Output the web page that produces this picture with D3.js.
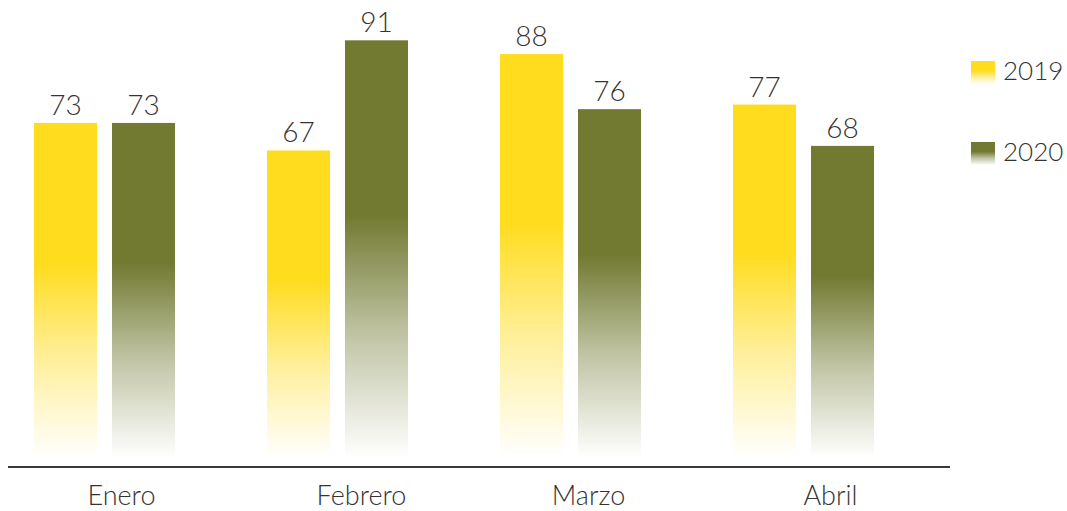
<!DOCTYPE html>
<html>
<head>
<meta charset="utf-8">
<script src="https://cdn.jsdelivr.net/npm/d3@7"></script>
<style>
  body { margin: 0; background: #fff; }
  svg text { font-family: Lato, "Open Sans", sans-serif; font-weight: 300; fill: #333; }
</style>
</head>
<body>
<div id="chart"></div>
<script>
// data
const MONTHS = ["Enero", "Febrero", "Marzo", "Abril"];
const SERIES = ["2019", "2020"];
const VALUES_2019 = [73, 67, 88, 77];
const VALUES_2020 = [73, 91, 76, 68];
const COLORS = ["#FFDC1E", "#727A32"];

const FRAME_WIDTH = 1067;
const FRAME_HEIGHT = 511;

const svg = d3.select("#chart").append("svg")
  .attr("width", FRAME_WIDTH)
  .attr("height", FRAME_HEIGHT);

// gradients: solid at top, fading to white at the bottom
const defs = svg.append("defs");
SERIES.forEach((s, i) => {
  const g = defs.append("linearGradient")
    .attr("id", "grad" + s)
    .attr("x1", 0).attr("y1", 0).attr("x2", 0).attr("y2", 1);
  g.append("stop").attr("offset", "0%").attr("stop-color", COLORS[i]).attr("stop-opacity", 1);
  g.append("stop").attr("offset", "42%").attr("stop-color", COLORS[i]).attr("stop-opacity", 1);
  g.append("stop").attr("offset", "70%").attr("stop-color", COLORS[i]).attr("stop-opacity", 0.45);
  g.append("stop").attr("offset", "100%").attr("stop-color", COLORS[i]).attr("stop-opacity", 0);
});

// one band per month, step 233px
const X_SCALE = d3.scaleBand().domain(MONTHS).range([8, 940]);
const Y_SCALE = d3.scaleLinear().domain([0, 100]).range([458, -1]);

const BAR_W = 63, BAR_GAP = 15, GROUP_SHIFT = -20;
const LABEL_SHIFT = [-3, 4, -2, 7]; // month labels sit slightly off centre

const data = [];
MONTHS.forEach((m, i) => {
  data.push({month: m, series: 0, value: VALUES_2019[i]});
  data.push({month: m, series: 1, value: VALUES_2020[i]});
});

const barX = d => X_SCALE(d.month) + X_SCALE.bandwidth() / 2 + GROUP_SHIFT
  + (d.series === 0 ? -BAR_GAP / 2 - BAR_W : BAR_GAP / 2);

svg.selectAll("rect.bar").data(data).enter().append("rect")
  .attr("class", "bar")
  .attr("x", d => barX(d))
  .attr("y", d => Y_SCALE(d.value))
  .attr("width", BAR_W)
  .attr("height", d => Y_SCALE(0) - Y_SCALE(d.value))
  .attr("fill", d => "url(#grad" + SERIES[d.series] + ")");

svg.selectAll("text.val").data(data).enter().append("text")
  .attr("class", "val")
  .attr("x", d => barX(d) + BAR_W / 2)
  .attr("y", d => Y_SCALE(d.value) - 8)
  .attr("text-anchor", "middle")
  .attr("font-size", "28px")
  .text(d => d.value);

// axis line + month labels
svg.append("line")
  .attr("x1", 8).attr("x2", 950)
  .attr("y1", 467).attr("y2", 467)
  .attr("stroke", "#3a3a3a").attr("stroke-width", 2);

svg.selectAll("text.month").data(MONTHS).enter().append("text")
  .attr("class", "month")
  .attr("x", (d, i) => X_SCALE(d) + X_SCALE.bandwidth() / 2 + LABEL_SHIFT[i])
  .attr("y", 505)
  .attr("text-anchor", "middle")
  .attr("font-size", "27px")
  .text(d => d);

// legend
const legend = svg.selectAll("g.legend").data(SERIES).enter().append("g")
  .attr("class", "legend")
  .attr("transform", (d, i) => "translate(971," + (61 + i * 81) + ")");
legend.append("rect")
  .attr("width", 24).attr("height", 23)
  .attr("fill", d => "url(#grad" + d + ")");
legend.append("text")
  .attr("x", 32).attr("y", 19)
  .attr("font-size", "26px")
  .text(d => d);
</script>
</body>
</html>
